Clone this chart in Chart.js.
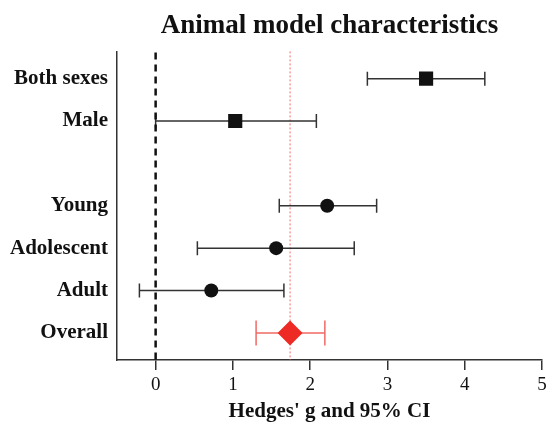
<!DOCTYPE html>
<html>
<head>
<meta charset="utf-8">
<script src="https://cdn.jsdelivr.net/npm/chart.js@4"></script>
<style>
  html, body { margin: 0; padding: 0; background: #fff; }
  #wrap { width: 549px; height: 434px; }
</style>
</head>
<body>
<div id="wrap"><canvas id="forest"></canvas></div>
<script>
// subgroup rows (row 3 is the empty gap between sex and age groups)
var labels = ['Both sexes', 'Male', 'Young', 'Adolescent', 'Adult', 'Overall'];
var rows = [1, 2, 4, 5, 6, 7];
var estimates = [3.50, 1.03, 2.22, 1.56, 0.72, 1.74];
var lower = [2.74, 0.00, 1.60, 0.54, -0.21, 1.30];
var upper = [4.26, 2.08, 2.86, 2.57, 1.66, 2.19];
var xTicks = [0, 1, 2, 3, 4, 5];
var nullEffect = 0;
var pooledEffect = 1.74;

var colors = {
    ink: '#111111',
    axis: '#333333',
    red: '#ee2a24',
    redLight: '#f06a66',
    redDotted: 'rgba(240, 110, 110, 0.85)'
};
var serif = '"Liberation Serif", "Times New Roman", serif';

function pointsFor(idx) {
    return idx.map(function(i) { return { x: estimates[i], y: rows[i] }; });
}

var forestLines = {
    id: 'forestLines',
    beforeDatasetsDraw: function(chart) {
        var ctx = chart.ctx, xs = chart.scales.x, ys = chart.scales.y, area = chart.chartArea;
        ctx.save();
        // pooled estimate reference line
        var px = xs.getPixelForValue(pooledEffect);
        ctx.strokeStyle = colors.redDotted;
        ctx.lineWidth = 1.2;
        ctx.setLineDash([2, 2]);
        ctx.beginPath();
        ctx.moveTo(px, area.top);
        ctx.lineTo(px, area.bottom);
        ctx.stroke();

        // confidence intervals
        ctx.setLineDash([]);
        ctx.lineWidth = 1.5;
        for (var i = 0; i < rows.length; i++) {
            var isOverall = labels[i] === 'Overall';
            var y = ys.getPixelForValue(rows[i]);
            var x1 = xs.getPixelForValue(lower[i]);
            var x2 = xs.getPixelForValue(upper[i]);
            var cap = isOverall ? 12.5 : 7;
            ctx.strokeStyle = isOverall ? colors.redLight : colors.axis;
            ctx.beginPath();
            ctx.moveTo(x1, y); ctx.lineTo(x2, y);
            ctx.moveTo(x1, y - cap); ctx.lineTo(x1, y + cap);
            ctx.moveTo(x2, y - cap); ctx.lineTo(x2, y + cap);
            ctx.stroke();
        }

        // line of no effect
        var zx = xs.getPixelForValue(nullEffect);
        ctx.strokeStyle = colors.ink;
        ctx.lineWidth = 2.5;
        ctx.setLineDash([7, 5]);
        ctx.beginPath();
        ctx.moveTo(zx, area.top + 1);
        ctx.lineTo(zx, area.bottom);
        ctx.stroke();
        ctx.restore();
    }
};

new Chart(document.getElementById('forest').getContext('2d'), {
    type: 'scatter',
    data: {
        datasets: [{
            data: pointsFor([0, 1]),
            pointStyle: 'rect',
            pointRadius: 10,
            backgroundColor: colors.ink,
            borderColor: colors.ink,
            borderWidth: 0
        }, {
            data: pointsFor([2, 3, 4]),
            pointStyle: 'circle',
            pointRadius: 7,
            backgroundColor: colors.ink,
            borderColor: colors.ink,
            borderWidth: 0
        }, {
            data: pointsFor([5]),
            pointStyle: 'rectRot',
            pointRadius: 12.5,
            backgroundColor: colors.red,
            borderColor: colors.red,
            borderWidth: 0
        }]
    },
    options: {
        responsive: true,
        maintainAspectRatio: false,
        animation: false,
        layout: { autoPadding: false, padding: 0 },
        plugins: {
            legend: { display: false },
            tooltip: { enabled: false },
            title: {
                display: true,
                fullSize: false,
                text: 'Animal model characteristics',
                color: colors.ink,
                font: { family: serif, size: 27, weight: 'bold' },
                padding: { top: 10, bottom: 9 }
            }
        },
        scales: {
            x: {
                type: 'linear',
                min: -0.5,
                max: 5,
                afterBuildTicks: function(scale) {
                    scale.ticks = xTicks.map(function(v) { return { value: v }; });
                },
                afterFit: function(scale) {
                    scale.height = 74;
                    scale.paddingRight = 7;
                },
                grid: {
                    drawOnChartArea: false,
                    drawTicks: true,
                    tickLength: 10,
                    color: colors.axis,
                    lineWidth: 1.5
                },
                border: { color: colors.axis, width: 1.5 },
                ticks: {
                    color: colors.ink,
                    padding: 4,
                    font: { family: serif, size: 19 }
                },
                title: {
                    display: true,
                    text: "Hedges' g and 95% CI",
                    color: colors.ink,
                    font: { family: serif, size: 21, weight: 'bold' },
                    padding: { top: 0, bottom: 10 }
                }
            },
            y: {
                type: 'linear',
                reverse: true,
                min: 0.356,
                max: 7.64,
                afterBuildTicks: function(scale) {
                    scale.ticks = rows.map(function(v) { return { value: v }; });
                },
                afterFit: function(scale) { scale.width = 117; },
                grid: { display: false },
                border: { color: colors.axis, width: 1.5 },
                ticks: {
                    color: colors.ink,
                    padding: 1,
                    font: { family: serif, size: 21, weight: 'bold' },
                    callback: function(value) { return labels[rows.indexOf(value)]; }
                }
            }
        }
    },
    plugins: [forestLines]
});
</script>
</body>
</html>
